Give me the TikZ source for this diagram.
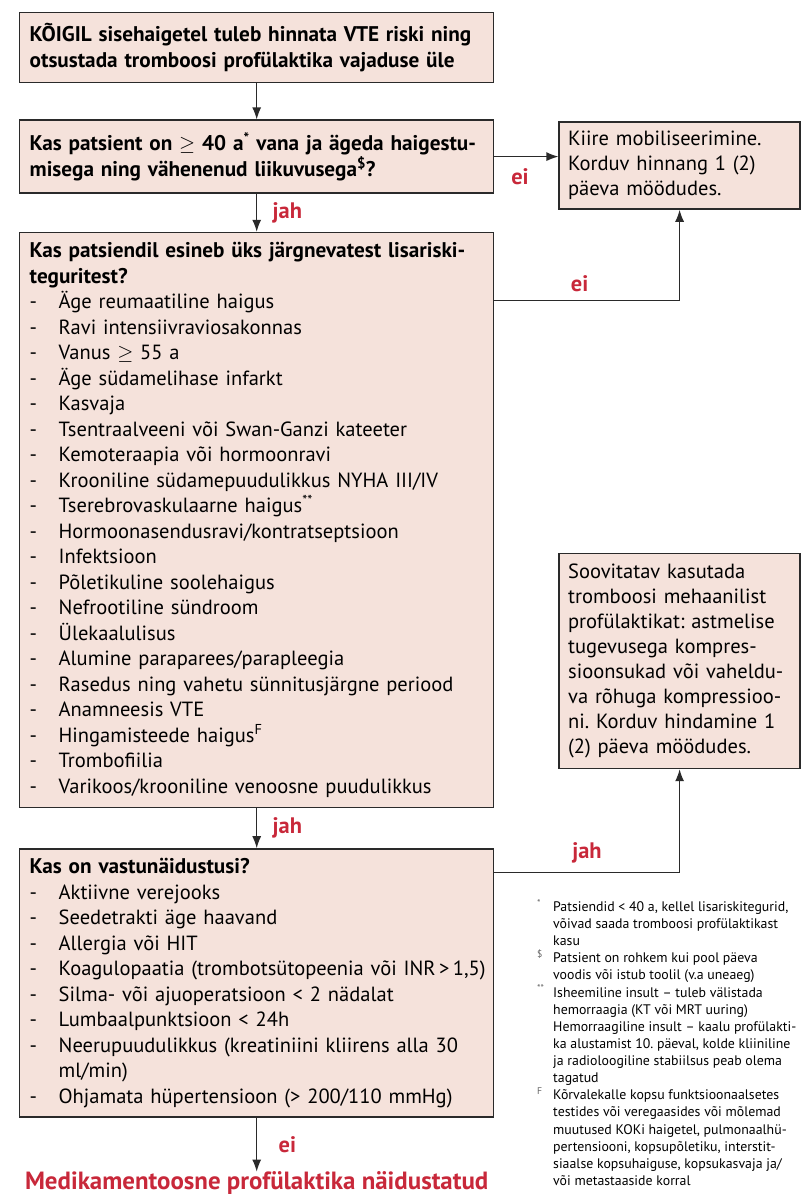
\documentclass[tikz,border=0pt]{standalone}
\usepackage{fontspec}
\setmainfont{PT Sans}
\usetikzlibrary{positioning,arrows.meta}
\definecolor{boxfill}{HTML}{F5E2DB}
\definecolor{ansred}{HTML}{C8283A}
\definecolor{edge}{HTML}{2A2A2A}
\newcommand{\itm}[1]{\mbox{\makebox[29bp][l]{-}#1}}
\newcommand{\hd}[1]{\mbox{\fontsize{21.3}{25.6}\selectfont\bfseries #1}}
\newcommand{\fnm}[1]{\makebox[16bp][l]{\textcolor{gray!80!black}{\textsuperscript{#1}}}}
\frenchspacing

\begin{document}
\begin{tikzpicture}[x=1bp,y=-1bp]
      \tikzset{
        box/.style={draw=edge, rectangle, fill=boxfill, line width=1.4bp, inner xsep=10bp, inner ysep=5bp, align=left, font=\fontsize{20.6}{25.6}\selectfont},
        wide/.style={box, text width=454bp},
        side/.style={box, inner xsep=9bp, text width=223bp, font=\fontsize{20.6}{25}\selectfont},
        answer/.style={text=ansred, font=\fontsize{22.5}{24}\selectfont\bfseries},
        line/.style={draw=edge, line width=1.2bp, -{Latex[length=12bp,width=9bp]}},
      }
      \useasboundingbox (0,0) rectangle (809,1196);

      \node [wide, anchor=north west, minimum height=70bp] (koik) at (19,12)
        {\hd{KÕIGIL sisehaigetel tuleb hinnata VTE riski ning}\\
         \hd{otsustada tromboosi profülaktika vajaduse üle}};
      \node [wide, below=36bp of koik, minimum height=73bp] (vanus)
        {\hd{Kas patsient on $\geq$ 40 a\textsuperscript{*} vana ja ägeda haigestu-}\\
         \hd{misega ning vähenenud liikuvusega\textsuperscript{\$}?}};
      \node [side, right=64bp of vanus.north east, anchor=north west, yshift=-2bp, minimum height=87bp] (kiire)
        {Kiire mobiliseerimine.\\ Korduv hinnang 1 (2)\\ päeva möödudes.};
      \node [wide, below=38bp of vanus, minimum height=575bp] (lisa)
        {\hd{Kas patsiendil esineb üks järgnevatest lisariski-}\\
         \hd{teguritest?}\\
         \itm{Äge reumaatiline haigus}\\
         \itm{Ravi intensiivraviosakonnas}\\
         \itm{Vanus $\geq$ 55 a}\\
         \itm{Äge südamelihase infarkt}\\
         \itm{Kasvaja}\\
         \itm{Tsentraalveeni või Swan-Ganzi kateeter}\\
         \itm{Kemoteraapia või hormoonravi}\\
         \itm{Krooniline südamepuudulikkus NYHA III/IV}\\
         \itm{Tserebrovaskulaarne haigus\textsuperscript{**}}\\
         \itm{Hormoonasendusravi/kontratseptsioon}\\
         \itm{Infektsioon}\\
         \itm{Põletikuline soolehaigus}\\
         \itm{Nefrootiline sündroom}\\
         \itm{Ülekaalulisus}\\
         \itm{Alumine paraparees/parapleegia}\\
         \itm{Rasedus ning vahetu sünnitusjärgne periood}\\
         \itm{Anamneesis VTE}\\
         \itm{Hingamisteede haigus\textsuperscript{F}}\\
         \itm{Trombofiilia}\\
         \itm{Varikoos/krooniline venoosne puudulikkus}};
      \node [wide, below=40bp of lisa, minimum height=268bp] (vastu)
        {\hd{Kas on vastunäidustusi?}\\
         \itm{Aktiivne verejooks}\\
         \itm{Seedetrakti äge haavand}\\
         \itm{Allergia või HIT}\\
         \itm{Koagulopaatia (trombotsütopeenia või INR\,>\,1,5)}\\
         \itm{Silma- või ajuoperatsioon < 2 nädalat}\\
         \itm{Lumbaalpunktsioon < 24h}\\
         \itm{Neerupuudulikkus (kreatiniini kliirens alla 30}\\
         \hspace*{29bp}ml/min)\\
         \itm{Ohjamata hüpertensioon (> 200/110 mmHg)}};
      \node [side, below=343bp of kiire, minimum height=215bp] (meh)
        {Soovitatav kasutada\\ tromboosi mehaanilist\\ profülaktikat: astmelise\\ tugevusega kompres-\\
         sioonsukad või vaheldu-\\ va rõhuga kompressioo-\\ ni. Korduv hindamine 1\\ (2) päeva möödudes.};
      \node [below=54bp of vastu, inner sep=0pt, text=ansred, font=\fontsize{25}{28}\selectfont\bfseries] (ravi)
        {Medikamentoosne profülaktika näidustatud};
      \node [anchor=north west, inner sep=0pt, align=left, font=\fontsize{13.9}{17.2}\selectfont] (markused) at (537,899)
        {\fnm{*}Patsiendid < 40 a, kellel lisariskitegurid,\\
         \hspace*{16bp}võivad saada tromboosi profülaktikast\\
         \hspace*{16bp}kasu\\
         \fnm{\$}Patsient on rohkem kui pool päeva\\
         \hspace*{16bp}voodis või istub toolil (v.a uneaeg)\\
         \fnm{**}Isheemiline insult – tuleb välistada\\
         \hspace*{16bp}hemorraagia (KT või MRT uuring)\\
         \hspace*{16bp}Hemorraagiline insult – kaalu profülakti-\\
         \hspace*{16bp}ka alustamist 10. päeval, kolde kliiniline\\
         \hspace*{16bp}ja radioloogiline stabiilsus peab olema\\
         \hspace*{16bp}tagatud\\
         \fnm{F}Kõrvalekalle kopsu funktsioonaalsetes\\
         \hspace*{16bp}testides või veregaasides või mõlemad\\
         \hspace*{16bp}muutused KOKi haigetel, pulmonaalhü-\\
         \hspace*{16bp}pertensiooni, kopsupõletiku, interstit-\\
         \hspace*{16bp}siaalse kopsuhaiguse, kopsukasvaja ja/\\
         \hspace*{16bp}või metastaaside korral};

      \path [line] (koik)--(vanus);
      \path [line] (vanus.east)--node[answer, below=8bp, pos=0.4]{ei} (vanus.east -| kiire.west);
      \path [line] (vanus)--node[answer, right=12bp]{jah} (lisa);
      \path [line] ([yshift=-69bp]lisa.north east) -| node[answer, above=5bp, pos=0.23]{ei} (kiire.south);
      \path [line] (lisa)--node[answer, right=12bp]{jah} (vastu);
      \path [line] ([yshift=-24bp]vastu.north east) -| node[answer, above=5bp, pos=0.25]{jah} (meh.south);
      \path [line] (vastu)--node[answer, right=18bp]{ei} (ravi);
\end{tikzpicture}
\end{document}
